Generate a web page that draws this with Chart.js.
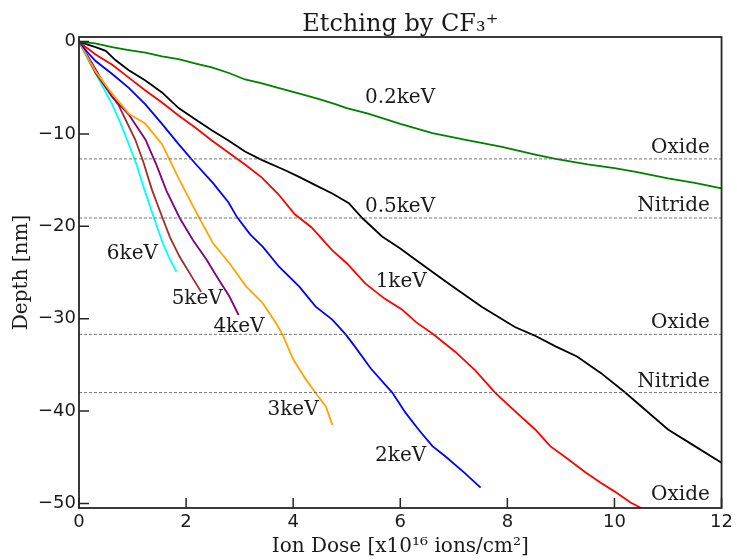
<!DOCTYPE html>
<html>
<head>
<meta charset="utf-8">
<script src="https://cdn.jsdelivr.net/npm/chart.js@4.4.1/dist/chart.umd.min.js"></script>
<style>
    html, body { margin: 0; padding: 0; background: #ffffff; }
    #wrap { width: 737px; height: 560px; }
</style>
</head>
<body>
<div id="wrap"><canvas id="etchChart" width="737" height="560"></canvas></div>
<script>
// Depth vs ion dose, one [dose, depth] list per ion energy
const keV02 = [[0,0],[0.3,-0.2],[0.62,-0.6],[0.9,-0.9],[1.24,-1.2],[1.55,-1.6],[1.86,-1.9],[2.2,-2.4],[2.48,-2.8],[2.8,-3.4],[3.1,-4.1],[3.4,-4.5],[3.72,-5.0],[4.1,-5.6],[4.47,-6.2],[4.8,-6.8],[5.0,-7.2],[5.4,-7.8],[6.0,-8.9],[6.6,-9.9],[7.2,-10.6],[7.9,-11.4],[8.5,-12.2],[8.9,-12.7],[9.5,-13.3],[10.0,-13.7],[10.4,-14.1],[11.0,-14.8],[11.5,-15.3],[12.0,-15.9]];
const keV05 = [[0,0],[0.15,-0.3],[0.31,-0.6],[0.5,-1.0],[0.68,-2.0],[0.93,-3.1],[1.24,-4.2],[1.55,-5.5],[1.86,-7.2],[2.17,-8.4],[2.48,-9.6],[2.79,-10.7],[3.1,-11.9],[3.41,-12.8],[3.84,-13.9],[4.11,-14.65],[4.47,-15.7],[4.73,-16.45],[5.04,-17.5],[5.29,-19.1],[5.66,-21.1],[6.0,-22.4],[6.28,-23.6],[6.9,-26.2],[7.52,-28.7],[8.14,-30.9],[8.5,-31.8],[8.9,-33.0],[9.3,-34.1],[9.75,-35.9],[10.2,-38.0],[10.6,-40.0],[11.0,-42.0],[11.5,-43.8],[12.0,-45.6]];
const keV1 = [[0,0],[0.15,-0.7],[0.31,-1.4],[0.62,-2.5],[0.93,-3.9],[1.24,-5.3],[1.55,-6.6],[1.86,-8.0],[2.17,-9.3],[2.48,-10.7],[2.79,-12.0],[3.1,-13.3],[3.41,-14.7],[3.72,-16.5],[4.03,-18.7],[4.34,-20.1],[4.73,-22.6],[5.0,-24.0],[5.35,-26.2],[5.7,-27.8],[6.03,-29.0],[6.3,-30.4],[6.6,-31.6],[7.03,-33.6],[7.4,-35.6],[7.77,-38.0],[8.1,-39.8],[8.52,-42.0],[8.8,-43.8],[9.13,-45.2],[9.45,-46.6],[9.75,-47.8],[10.0,-48.7],[10.3,-49.9],[10.5,-50.5]];
const keV2 = [[0,0],[0.15,-1.1],[0.31,-2.1],[0.62,-3.5],[0.93,-5.0],[1.24,-6.8],[1.55,-8.9],[1.86,-11.1],[2.17,-13.2],[2.5,-15.3],[2.79,-17.4],[2.95,-19.0],[3.2,-20.9],[3.43,-22.2],[3.74,-24.4],[4.11,-26.5],[4.42,-28.7],[4.73,-30.1],[4.98,-31.7],[5.15,-33.0],[5.45,-35.4],[5.85,-38.0],[6.1,-40.2],[6.34,-42.0],[6.6,-43.8],[6.84,-44.9],[7.2,-46.7],[7.5,-48.3]];
const keV3 = [[0,0],[0.15,-1.6],[0.31,-3.2],[0.6,-5.5],[0.93,-7.8],[1.24,-8.9],[1.55,-11.1],[1.86,-14.8],[2.2,-18.6],[2.5,-21.8],[2.81,-24.0],[3.12,-26.5],[3.43,-28.3],[3.68,-30.5],[3.8,-31.7],[4.0,-34.4],[4.24,-36.6],[4.45,-38.3],[4.61,-39.5],[4.73,-41.5]];
const keV4 = [[0,0],[0.2,-1.9],[0.4,-3.9],[0.62,-6.0],[0.93,-7.9],[1.24,-10.6],[1.45,-13.4],[1.63,-16.1],[1.88,-19.1],[2.13,-21.5],[2.38,-23.6],[2.59,-25.6],[2.81,-27.6],[2.98,-29.6]];
const keV5 = [[0,0],[0.15,-1.6],[0.31,-3.4],[0.5,-5.0],[0.74,-6.9],[1.05,-10.6],[1.2,-13.0],[1.36,-16.0],[1.56,-19.1],[1.7,-21.2],[1.88,-23.3],[2.08,-25.2],[2.28,-27.1]];
const keV6 = [[0,0],[0.1,-1.2],[0.25,-2.8],[0.4,-4.4],[0.62,-6.8],[0.78,-8.9],[0.93,-11.1],[1.08,-13.4],[1.22,-16.0],[1.4,-19.1],[1.57,-21.9],[1.7,-23.6],[1.82,-24.9]];

const energyNames = ['0.2keV', '0.5keV', '1keV', '2keV', '3keV', '4keV', '5keV', '6keV'];
const energySeries = [keV02, keV05, keV1, keV2, keV3, keV4, keV5, keV6];
const energyColors = ['#008000', '#000000', '#ff0000', '#0000ff', '#ffa500', '#800080', '#a52a2a', '#00ffff'];
// where each energy name is written (dose, depth)
const energyLabelPos = [[5.34,-6.05],[5.34,-17.9],[5.54,-26.0],[5.53,-44.9],[3.52,-39.85],[2.51,-30.9],[1.73,-27.9],[0.52,-23.0]];

// film stack interfaces
const layerDepths = [-12.7, -19.1, -31.7, -38.0];
const layerNames = ['Oxide', 'Nitride', 'Oxide', 'Nitride', 'Oxide'];
const layerLabelDepths = [-11.45, -17.8, -30.45, -36.8, -49.1];

const xTicks = [0, 2, 4, 6, 8, 10, 12];
const yTicks = [-50, -40, -30, -20, -10, 0];

const SERIF = '"DejaVu Serif", serif';
const SANS = '"DejaVu Sans", sans-serif';
const INK = '#1a1a1a';

const toPoints = list => list.map(p => ({ x: p[0], y: p[1] }));

const datasets = [];
layerDepths.forEach(d => {
    datasets.push({
        data: [{ x: 0, y: d }, { x: 12, y: d }],
        borderColor: '#555555',
        borderWidth: 0.8,
        borderDash: [3, 2],
        pointRadius: 0
    });
});
energySeries.forEach((s, i) => {
    datasets.push({
        label: energyNames[i],
        data: toPoints(s),
        borderColor: energyColors[i],
        borderWidth: 1.8,
        pointRadius: 0,
        tension: 0
    });
});

/**
 * Cadre, graduations vers l'intérieur et textes
 */
const decorPlugin = {
    id: 'decor',
    afterDatasetsDraw(chart) {
        const { ctx, chartArea: a, scales: { x, y } } = chart;
        ctx.save();
        ctx.strokeStyle = '#262626';
        ctx.lineWidth = 1.8;
        ctx.strokeRect(a.left, a.top, a.right - a.left, a.bottom - a.top);

        ctx.lineWidth = 1.5;
        ctx.beginPath();
        xTicks.forEach(v => {
            const px = x.getPixelForValue(v);
            ctx.moveTo(px, a.bottom);
            ctx.lineTo(px, a.bottom - 10);
        });
        yTicks.forEach(v => {
            const py = y.getPixelForValue(v);
            ctx.moveTo(a.left, py);
            ctx.lineTo(a.left + 10, py);
        });
        ctx.stroke();

        ctx.fillStyle = INK;
        ctx.font = '20px ' + SERIF;
        ctx.textBaseline = 'middle';
        ctx.textAlign = 'left';
        energyNames.forEach((name, i) => {
            const p = energyLabelPos[i];
            ctx.fillText(name, x.getPixelForValue(p[0]), y.getPixelForValue(p[1]));
        });
        ctx.textAlign = 'right';
        layerNames.forEach((name, i) => {
            ctx.fillText(name, x.getPixelForValue(11.78), y.getPixelForValue(layerLabelDepths[i]));
        });

        // titres
        const cx = (a.left + a.right) / 2;
        ctx.textAlign = 'center';
        ctx.textBaseline = 'alphabetic';
        ctx.font = '24px ' + SERIF;
        ctx.fillText('Etching by CF\u2083\u207A', cx, 31);
        ctx.font = '20px ' + SERIF;
        ctx.fillText('Ion Dose [x10\u00B9\u2076 ions/cm\u00B2]', cx, 552);
        ctx.translate(27, (a.top + a.bottom) / 2);
        ctx.rotate(-Math.PI / 2);
        ctx.fillText('Depth [nm]', 0, 0);
        ctx.restore();
    }
};

new Chart(document.getElementById('etchChart').getContext('2d'), {
    type: 'line',
    data: { datasets: datasets },
    plugins: [decorPlugin],
    options: {
        responsive: false,
        animation: false,
        events: [],
        layout: { padding: { left: 0, top: 37, right: 13, bottom: 0 } },
        plugins: {
            legend: { display: false },
            tooltip: { enabled: false },
            title: { display: false }
        },
        scales: {
            x: {
                type: 'linear',
                min: 0,
                max: 12,
                afterBuildTicks: s => { s.ticks = xTicks.map(v => ({ value: v })); },
                afterFit: s => { s.height = 52; },
                grid: { display: false, drawTicks: false },
                border: { display: false },
                ticks: { color: INK, padding: 4, font: { family: SANS, size: 18 }, maxRotation: 0, autoSkip: false }
            },
            y: {
                type: 'linear',
                min: -50.5,
                max: 0.5,
                afterBuildTicks: s => { s.ticks = yTicks.map(v => ({ value: v })); },
                afterFit: s => { s.width = 79; },
                grid: { display: false, drawTicks: false },
                border: { display: false },
                ticks: {
                    color: INK,
                    padding: 3,
                    font: { family: SANS, size: 18 },
                    autoSkip: false,
                    callback: v => (v < 0 ? '\u2212' + Math.abs(v) : String(v))
                }
            }
        }
    }
});
</script>
</body>
</html>
